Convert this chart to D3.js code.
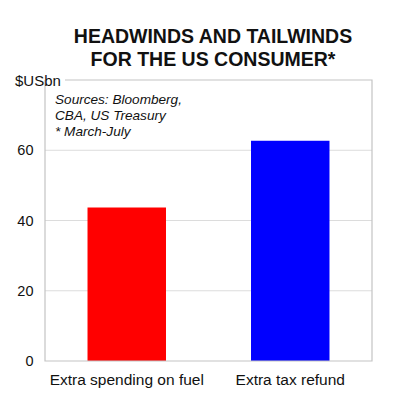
<!DOCTYPE html>
<html><head><meta charset="utf-8">
<script src="https://cdn.jsdelivr.net/npm/d3@7"></script>
<style>body{margin:0;background:#fff}svg{display:block}</style>
</head><body>
<svg id="c" width="400" height="400"></svg>
<script>
const categories = ["Extra spending on fuel", "Extra tax refund"];
const values = [43.7, 62.7];
const colors = ["#ff0000", "#0000ff"];
const yTicks = [0, 20, 40, 60];
const titleLines = ["HEADWINDS AND TAILWINDS", "FOR THE US CONSUMER*"];
const noteLines = ["Sources: Bloomberg,", "CBA, US Treasury", "* March-July"];
const unitLabel = "$USbn";

const svg = d3.select("#c");
const m = {l: 45, r: 28, t: 80, b: 39};
const W = 400, H = 400;
const x = d3.scaleBand().domain(categories).range([m.l, W - m.r]).paddingInner(0.52).paddingOuter(0.26);
const y = d3.scaleLinear().domain([0, 80]).range([H - m.b, m.t]);
const font = "Liberation Sans, Arial, sans-serif";

// title
svg.append("g").selectAll("text").data(titleLines).join("text")
  .attr("x", 213).attr("y", (d, i) => 43 + i * 22.5)
  .attr("text-anchor", "middle").attr("font-family", font)
  .attr("font-weight", "bold").attr("font-size", 19.5).attr("fill", "#111").text(d => d);

// gridlines
svg.append("g").selectAll("line").data(yTicks.filter(t => t > 0)).join("line")
  .attr("x1", m.l).attr("x2", W - m.r).attr("y1", d => y(d)).attr("y2", d => y(d))
  .attr("stroke", "#dcdcdc").attr("stroke-width", 1);

// bars
svg.append("g").selectAll("rect").data(values).join("rect")
  .attr("x", (d, i) => x(categories[i])).attr("width", x.bandwidth())
  .attr("y", d => y(d)).attr("height", d => y(0) - y(d))
  .attr("fill", (d, i) => colors[i]);

// frame
const fr = svg.append("g").attr("stroke", "#c4c4c4").attr("stroke-width", 1.2).attr("fill", "none");
fr.append("path").attr("d", `M${m.l},${y(80)}V${y(0)}H${W - m.r}V${y(80)}H${65}`);

// y axis labels
const ya = svg.append("g").attr("transform", `translate(${m.l},0)`)
  .call(d3.axisLeft(y).tickValues(yTicks).tickSize(0).tickPadding(11.5));
ya.select(".domain").remove();
ya.selectAll("text").attr("font-family", font).attr("font-size", 14.5).attr("fill", "#111");

// unit
svg.append("text").attr("x", 15).attr("y", y(80) + 5.5).attr("font-family", font)
  .attr("font-size", 15).attr("fill", "#111").text(unitLabel);

// x axis labels
const xa = svg.append("g").attr("transform", `translate(0,${y(0)})`)
  .call(d3.axisBottom(x).tickSize(0).tickPadding(13));
xa.select(".domain").remove();
xa.selectAll("text").attr("font-family", font).attr("font-size", 15.5).attr("fill", "#111");

// notes
svg.append("g").selectAll("text").data(noteLines).join("text")
  .attr("x", 55).attr("y", (d, i) => 104 + i * 16)
  .attr("font-family", font).attr("font-style", "italic").attr("font-size", 13.6)
  .attr("fill", "#111").text(d => d);
</script>
</body></html>
